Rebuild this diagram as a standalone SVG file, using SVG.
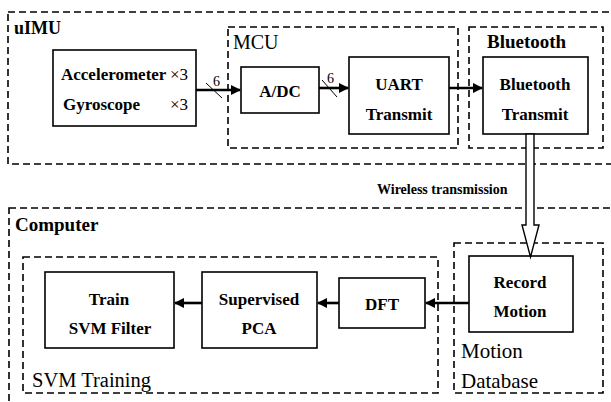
<svg xmlns="http://www.w3.org/2000/svg" width="611" height="402" viewBox="0 0 611 402">
<defs>
<marker id="ah" viewBox="0 0 10 10" refX="9" refY="5" markerWidth="4" markerHeight="4" markerUnits="strokeWidth" orient="auto">
<path d="M0,0 L10,5 L0,10 Z" fill="#000"/>
</marker>
</defs>
<rect width="611" height="402" fill="#fff"/>

<g fill="none" stroke="#000" stroke-width="1.6" stroke-dasharray="7 4">
<rect id="uIMU-frame" x="8" y="12" width="606" height="152"/>
<rect id="MCU-frame" x="228" y="27" width="230" height="121"/>
<rect id="Bluetooth-frame" x="469" y="27" width="134" height="121"/>
<rect id="Computer-frame" x="9" y="208" width="606" height="200"/>
<rect id="SVMTraining-frame" x="23" y="257" width="415" height="136"/>
<rect id="MotionDatabase-frame" x="454" y="243" width="149" height="150"/>
</g>

<g font-family="Liberation Serif" fill="#000">
<g id="uIMU"><text x="14" y="34" font-weight="bold" font-size="18">uIMU</text></g>
<g id="MCU"><text x="233" y="49" font-size="20">MCU</text></g>
<g id="BluetoothRegion"><text x="487" y="48" font-weight="bold" font-size="19">Bluetooth</text></g>
<g id="Computer"><text x="15" y="231" font-weight="bold" font-size="19">Computer</text></g>
<g id="SVMTraining"><text x="32" y="387" font-size="20.5">SVM Training</text></g>
<g id="MotionDatabase">
<text x="461" y="358" font-size="21">Motion</text>
<text x="461" y="388" font-size="21">Database</text>
</g>
</g>

<g font-family="Liberation Serif" font-size="17" fill="#000">
<g id="sensors">
<rect x="53" y="50" width="143" height="76" fill="#fff" stroke="#000" stroke-width="1.6"/>
<text x="61" y="80" font-weight="bold">Accelerometer</text>
<text x="170" y="80">&#215;3</text>
<text x="63" y="110" font-weight="bold">Gyroscope</text>
<text x="170" y="110">&#215;3</text>
</g>
</g>

<g font-family="Liberation Serif" font-weight="bold" font-size="17" text-anchor="middle" fill="#000">
<g id="adc">
<rect x="241" y="67" width="78" height="46" fill="#fff" stroke="#000" stroke-width="1.6"/>
<text x="280" y="97">A/DC</text>
</g>
<g id="uart">
<rect x="349" y="57" width="100" height="77" fill="#fff" stroke="#000" stroke-width="1.6"/>
<text x="399" y="90">UART</text>
<text x="399" y="120">Transmit</text>
</g>
<g id="btTransmit">
<rect x="483" y="57" width="105" height="77" fill="#fff" stroke="#000" stroke-width="1.6"/>
<text x="535" y="90">Bluetooth</text>
<text x="535" y="120">Transmit</text>
</g>
<g id="trainSVM">
<rect x="45" y="272" width="129" height="76" fill="#fff" stroke="#000" stroke-width="1.6"/>
<text x="109" y="305">Train</text>
<text x="110" y="334">SVM Filter</text>
</g>
<g id="supervisedPCA">
<rect x="202" y="272" width="115" height="76" fill="#fff" stroke="#000" stroke-width="1.6"/>
<text x="259" y="305">Supervised</text>
<text x="259" y="334">PCA</text>
</g>
<g id="dft">
<rect x="339" y="278" width="86" height="50" fill="#fff" stroke="#000" stroke-width="1.6"/>
<text x="382" y="310">DFT</text>
</g>
<g id="recordMotion">
<rect x="469" y="256" width="104" height="76" fill="#fff" stroke="#000" stroke-width="1.6"/>
<text x="520" y="288">Record</text>
<text x="520" y="317">Motion</text>
</g>
</g>

<g id="connectors">
<g stroke="#000" stroke-width="2.6" fill="none" marker-end="url(#ah)">
<line x1="196" y1="90" x2="240" y2="90"/>
<line x1="319" y1="88" x2="348" y2="88"/>
<line x1="449" y1="88" x2="482" y2="88"/>
<line x1="469" y1="303" x2="426" y2="303"/>
<line x1="339" y1="303" x2="318" y2="303"/>
<line x1="202" y1="303" x2="175" y2="303"/>
</g>
<line x1="206" y1="83" x2="222" y2="98" stroke="#000" stroke-width="1"/>
<line x1="322" y1="80" x2="337" y2="97" stroke="#000" stroke-width="1"/>
<text x="213" y="86" font-family="Liberation Serif" font-size="14">6</text>
<text x="327" y="83" font-family="Liberation Serif" font-size="14">6</text>
<path d="M526,134 L534,134 L534,225 L539,225 L530.5,257 L522,225 L526,225 Z" fill="#fff" stroke="#000" stroke-width="1.4"/>
<text x="377" y="194" font-family="Liberation Serif" font-weight="bold" font-size="14">Wireless transmission</text>
</g>
</svg>
